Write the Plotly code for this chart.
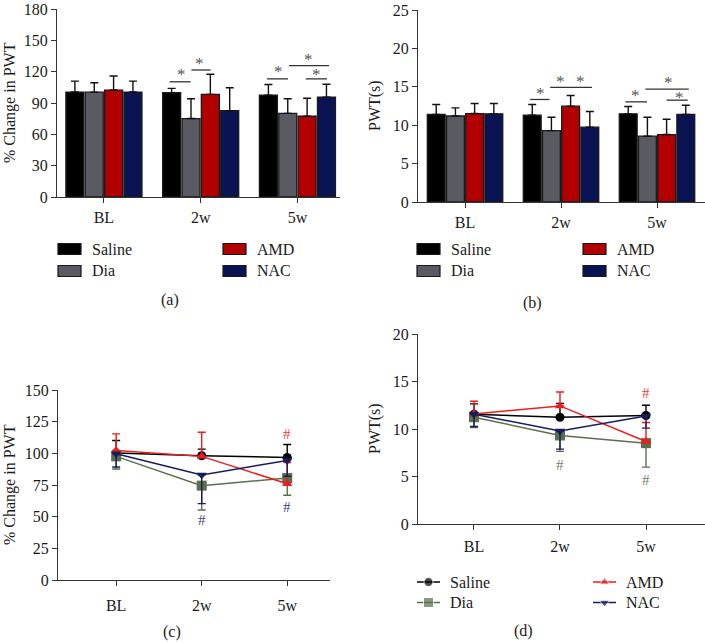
import plotly.graph_objects as go

W, H = 705, 643

timepoints = ["BL", "2w", "5w"]
group_names = ["Saline", "Dia", "AMD", "NAC"]

# (a) % change in PWT, bars (mean, upward error)
pct_saline = [100.5, 99.9, 97.4]
pct_dia = [100.4, 75.1, 80.1]
pct_amd = [102.4, 98.3, 77.3]
pct_nac = [100.5, 82.6, 95.5]
pct_saline_err = [10.4, 4.1, 10.3]
pct_dia_err = [9.0, 19.0, 14.0]
pct_amd_err = [13.5, 19.2, 17.2]
pct_nac_err = [10.4, 22.0, 12.5]

# (b) PWT (s), bars
pwt_saline = [11.39, 11.30, 11.48]
pwt_dia = [11.20, 9.30, 8.57]
pwt_amd = [11.52, 12.48, 8.78]
pwt_nac = [11.48, 9.74, 11.39]
pwt_saline_err = [1.31, 1.40, 0.95]
pwt_dia_err = [1.06, 1.74, 2.47]
pwt_amd_err = [1.31, 1.39, 2.00]
pwt_nac_err = [1.35, 2.04, 1.21]

# (c) % change in PWT, lines (Saline/AMD errors up, Dia/NAC errors down)
line_pct_saline = [100.2, 98.1, 96.8]
line_pct_dia = [97.6, 74.5, 80.5]
line_pct_amd = [102.3, 97.6, 76.0]
line_pct_nac = [99.7, 82.9, 94.4]
line_pct_saline_err = [9.9, 5.2, 10.2]
line_pct_dia_err = [10.0, 19.2, 13.6]
line_pct_amd_err = [13.1, 19.1, 16.8]
line_pct_nac_err = [10.5, 22.6, 12.5]

# (d) PWT (s), lines
line_pwt_saline = [11.56, 11.24, 11.42]
line_pwt_dia = [11.24, 9.32, 8.51]
line_pwt_amd = [11.59, 12.43, 8.69]
line_pwt_nac = [11.56, 9.80, 11.38]
line_pwt_saline_err = [1.08, 1.46, 1.08]
line_pwt_dia_err = [1.08, 1.68, 2.52]
line_pwt_amd_err = [1.33, 1.47, 1.99]
line_pwt_nac_err = [1.30, 1.92, 1.29]

# significance brackets (x in category units, y in data units)
sig_a_x0 = [0.679, 0.904, 1.686, 1.913, 2.086]
sig_a_x1 = [0.896, 1.103, 1.903, 2.327, 2.306]
sig_a_y = [110.3, 121.6, 113.1, 125.7, 113.1]
star_a_x = [0.80, 0.99, 1.80, 2.117, 2.196]
star_a_y = [120.9, 131.3, 124.1, 135.1, 120.9]

sig_b_x0 = [0.678, 0.887, 1.67, 1.879, 2.10]
sig_b_x1 = [0.88, 1.322, 1.896, 2.331, 2.32]
sig_b_y = [13.35, 14.92, 13.04, 14.7, 13.26]
star_b_x = [0.783, 0.999, 1.207, 1.78, 2.115, 2.23]
star_b_y = [14.66, 16.2, 16.2, 14.4, 16.1, 14.1]

# "#" marks
hash_c_x = [1, 2, 2]
hash_c_y = [47.7, 115.4, 57.4]
hash_c_group = ["NAC", "AMD", "NAC"]
hash_d_x = [1, 2, 2]
hash_d_y = [6.23, 13.77, 4.66]
hash_d_group = ["Dia", "AMD", "Dia"]

FONT = "Liberation Serif"
bar_colors = {"Saline": "#000000", "Dia": "#5a5a62", "AMD": "#b20000", "NAC": "#0b1452"}
line_colors = {"Saline": "#000000", "Dia": "#5b6e50", "AMD": "#ee1c1c", "NAC": "#161c5c"}
hash_colors = {"Dia": "#6f8064", "AMD": "#ee3a3a", "NAC": "#3a3f80"}
symbols = {"Saline": "circle", "Dia": "square", "AMD": "triangle-up", "NAC": "triangle-down"}
err_up = {"Saline": True, "Dia": False, "AMD": True, "NAC": False}

bar_data_a = {"Saline": (pct_saline, pct_saline_err), "Dia": (pct_dia, pct_dia_err),
              "AMD": (pct_amd, pct_amd_err), "NAC": (pct_nac, pct_nac_err)}
bar_data_b = {"Saline": (pwt_saline, pwt_saline_err), "Dia": (pwt_dia, pwt_dia_err),
              "AMD": (pwt_amd, pwt_amd_err), "NAC": (pwt_nac, pwt_nac_err)}
line_data_c = {"Saline": (line_pct_saline, line_pct_saline_err), "Dia": (line_pct_dia, line_pct_dia_err),
               "AMD": (line_pct_amd, line_pct_amd_err), "NAC": (line_pct_nac, line_pct_nac_err)}
line_data_d = {"Saline": (line_pwt_saline, line_pwt_saline_err), "Dia": (line_pwt_dia, line_pwt_dia_err),
               "AMD": (line_pwt_amd, line_pwt_amd_err), "NAC": (line_pwt_nac, line_pwt_nac_err)}


def px(x):
    return x / W


def py(y):
    return 1 - y / H


fig = go.Figure()

for ax, data in (("", bar_data_a), ("2", bar_data_b)):
    for g in group_names:
        vals, errs = data[g]
        fig.add_trace(go.Bar(
            x=timepoints, y=vals, name=g, showlegend=False,
            xaxis="x" + ax, yaxis="y" + ax,
            marker=dict(color=bar_colors[g], line=dict(color="#1a1a1a", width=1.3)),
            error_y=dict(type="data", symmetric=False, array=errs, arrayminus=[0] * len(errs),
                         color="#111111", thickness=1.4, width=4),
        ))

for ax, data in (("3", line_data_c), ("4", line_data_d)):
    for g in group_names:
        vals, errs = data[g]
        if err_up[g]:
            ey = dict(type="data", symmetric=False, array=errs, arrayminus=[0] * len(errs),
                      color=line_colors[g], thickness=1.4, width=4)
        else:
            ey = dict(type="data", symmetric=False, array=[0] * len(errs), arrayminus=errs,
                      color=line_colors[g], thickness=1.4, width=4)
        fig.add_trace(go.Scatter(
            x=timepoints, y=vals, name=g, showlegend=False, mode="lines+markers",
            xaxis="x" + ax, yaxis="y" + ax,
            line=dict(color=line_colors[g], width=1.5),
            marker=dict(symbol=symbols[g], size=10 if g == "Dia" else 9, color=line_colors[g]),
            error_y=ey,
        ))

# axes
axis_common = dict(showline=True, linecolor="#333333", linewidth=1.3, ticks="outside",
                   ticklen=5, tickwidth=1.3, tickcolor="#333333", showgrid=False, zeroline=False,
                   ticklabeloverflow="allow",
                   tickfont=dict(family=FONT, size=16, color="#1a1a1a"))

layout_axes = {
    "xaxis": dict(domain=[px(57), px(340)], range=[-0.485, 2.44], anchor="y",
                  ticklabelstandoff=1, **axis_common),
    "yaxis": dict(domain=[py(197), py(9)], range=[0, 180], dtick=30, anchor="x", **axis_common),
    "xaxis2": dict(domain=[px(418), 1.0], range=[-0.49, 2.5], anchor="y2",
                   ticklabelstandoff=1, **axis_common),
    "yaxis2": dict(domain=[py(202), py(10)], range=[0, 25], dtick=5, anchor="x2", **axis_common),
    "xaxis3": dict(domain=[px(58), px(330)], range=[-0.68, 2.5], anchor="y3",
                   ticklabelstandoff=6, **axis_common),
    "yaxis3": dict(domain=[py(580), py(390)], range=[0, 150], dtick=25, anchor="x3", **axis_common),
    "xaxis4": dict(domain=[px(418), 1.0], range=[-0.651, 2.686], anchor="y4",
                   ticklabelstandoff=3, **axis_common),
    "yaxis4": dict(domain=[py(524), py(334)], range=[0, 20], dtick=5, anchor="x4", **axis_common),
    "xaxis5": dict(domain=[0, 1], range=[0, W], anchor="y5", visible=False, fixedrange=True),
    "yaxis5": dict(domain=[0, 1], range=[H, 0], anchor="x5", visible=False, fixedrange=True),
}

shapes = []
annotations = []


def note(**kw):
    kw.setdefault("showarrow", False)
    kw.setdefault("xanchor", "center")
    kw.setdefault("yanchor", "middle")
    annotations.append(kw)


# significance brackets
for x0, x1, y in zip(sig_a_x0, sig_a_x1, sig_a_y):
    shapes.append(dict(type="line", xref="x", yref="y", x0=x0, x1=x1, y0=y, y1=y,
                       line=dict(color="#333333", width=1.3)))
for x, y in zip(star_a_x, star_a_y):
    note(xref="x", yref="y", x=x, y=y, text="*", yshift=-4,
         font=dict(family=FONT, size=17, color="#555555"))
for x0, x1, y in zip(sig_b_x0, sig_b_x1, sig_b_y):
    shapes.append(dict(type="line", xref="x2", yref="y2", x0=x0, x1=x1, y0=y, y1=y,
                       line=dict(color="#333333", width=1.3)))
for x, y in zip(star_b_x, star_b_y):
    note(xref="x2", yref="y2", x=x, y=y, text="*", yshift=-4,
         font=dict(family=FONT, size=17, color="#555555"))

# hash marks
for x, y, g in zip(hash_c_x, hash_c_y, hash_c_group):
    note(xref="x3", yref="y3", x=x, y=y, text="#",
         font=dict(family=FONT, size=15, color=hash_colors[g]))
for x, y, g in zip(hash_d_x, hash_d_y, hash_d_group):
    note(xref="x4", yref="y4", x=x, y=y, text="#",
         font=dict(family=FONT, size=15, color=hash_colors[g]))

# axis titles
for text, x, y0, y1 in (("% Change in PWT", 10, 9, 197), ("PWT(s)", 375, 10, 202),
                        ("% Change in PWT", 10, 390, 580), ("PWT(s)", 375, 334, 524)):
    note(xref="paper", yref="paper", x=px(x), y=py((y0 + y1) / 2), text=text, textangle=-90,
         font=dict(family=FONT, size=16, color="#1a1a1a"))

# captions
for text, x, y in (("(a)", 170, 300), ("(b)", 532, 303), ("(c)", 172, 632), ("(d)", 523, 631)):
    note(xref="paper", yref="paper", x=px(x), y=py(y), text=text,
         font=dict(family=FONT, size=16, color="#1a1a1a"))

# bar legends (a), (b)
legend_pos = {"Saline": (0, 0), "Dia": (0, 1), "AMD": (1, 0), "NAC": (1, 1)}
for base_x, col2_x in ((58, 223), (417, 583)):
    for g in group_names:
        c, r = legend_pos[g]
        x0 = base_x if c == 0 else col2_x
        yc = 249 + r * 22
        shapes.append(dict(type="rect", xref="paper", yref="paper", x0=px(x0), x1=px(x0 + 23),
                           y0=py(yc - 5.5), y1=py(yc + 5.5), fillcolor=bar_colors[g],
                           line=dict(color="#1a1a1a", width=1.2)))
        note(xref="paper", yref="paper", x=px(x0 + 32), y=py(yc), xanchor="left", text=g,
             font=dict(family=FONT, size=16, color="#1a1a1a"))

# line legend (d)
for g in group_names:
    c, r = legend_pos[g]
    x0 = 417 if c == 0 else 593
    yc = 582 + r * 20.5
    fig.add_trace(go.Scatter(
        x=[x0, x0 + 11.5, x0 + 23], y=[yc, yc, yc], mode="lines+markers", showlegend=False,
        xaxis="x5", yaxis="y5", hoverinfo="skip",
        line=dict(color=line_colors[g], width=1.5),
        marker=dict(symbol=symbols[g], size=[0, 10 if g == "Dia" else 9, 0], color=line_colors[g]),
    ))
    note(xref="paper", yref="paper", x=px(x0 + 31), y=py(yc), xanchor="left", text=g,
         font=dict(family=FONT, size=16, color="#1a1a1a"))

fig.update_layout(
    width=W, height=H, margin=dict(l=0, r=0, t=0, b=0, autoexpand=False),
    paper_bgcolor="white", plot_bgcolor="rgba(0,0,0,0)",
    barmode="group", bargap=0.2, bargroupgap=0.07,
    showlegend=False, shapes=shapes, annotations=annotations,
    font=dict(family=FONT, size=16, color="#1a1a1a"),
    **layout_axes,
)

fig.write_html("out.html", config={"displayModeBar": False},
               post_script="document.body.style.margin='0';document.body.style.padding='0';")
